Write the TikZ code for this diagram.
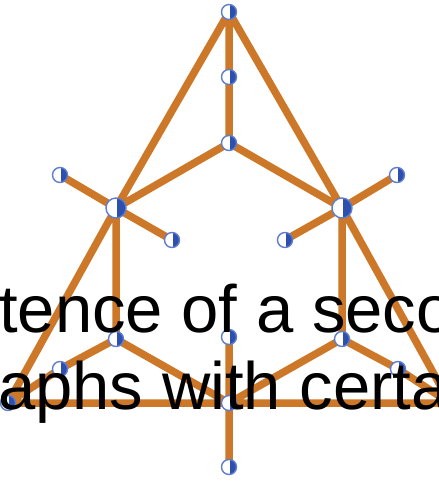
\documentclass[tikz,border=0pt]{standalone}
\usepackage{fontspec}
\setmainfont{Liberation Sans}
\definecolor{edgeor}{RGB}{204,120,40}
\definecolor{vblue}{RGB}{45,80,175}
\definecolor{vring}{RGB}{95,125,205}
\tikzset{
  edge/.style={draw=edgeor, line width=7.5pt},
  vtx/.style={circle, inner sep=0pt, minimum size=15pt, fill=white, draw=vring, line width=1.4pt,
    path picture={\fill[vblue] ([xshift=1.2pt]path picture bounding box.north) rectangle (path picture bounding box.south east);}},
  bigvtx/.style={vtx, minimum size=20pt},
  lbl/.style={anchor=base west, inner sep=0pt, font=\fontsize{67}{77}\selectfont, text=black}
}
\begin{document}
\begin{tikzpicture}[x=1pt,y=-1pt]
\useasboundingbox (0,0) rectangle (439,482);
\clip (0,0) rectangle (439,482);
\fill[white] (0,0) rectangle (439,482);
% vertex positions (named coordinates)
\coordinate (T) at (229,12);
\coordinate (T2) at (229,77);
\coordinate (C) at (229,143);
\coordinate (L) at (116,208);
\coordinate (R) at (342,208);
\coordinate (Lo) at (60,175);
\coordinate (Li) at (172,240);
\coordinate (Ro) at (397,175);
\coordinate (Ri) at (285,240);
\coordinate (LL1) at (116,339);
\coordinate (LL2) at (60,369);
\coordinate (BL) at (8,403);
\coordinate (BC) at (229,403);
\coordinate (CU) at (229,337);
\coordinate (S) at (229,467);
\coordinate (RL1) at (342,339);
\coordinate (RL2) at (398,369);
\coordinate (BR) at (450,403);
% edges
\path[edge] (T) -- (T2) (T2) -- (C) (T) -- (L) (L) -- (BL) (T) -- (R) (R) -- (BR)
  (C) -- (L) (C) -- (R) (L) -- (Lo) (L) -- (Li) (R) -- (Ro) (R) -- (Ri)
  (L) -- (LL1) (R) -- (RL1) (LL1) -- (LL2) (LL2) -- (BL) (LL1) -- (BC)
  (RL1) -- (BC) (RL1) -- (RL2) (RL2) -- (BR) (BL) -- (BC) (BC) -- (BR)
  (BC) -- (CU) (BC) -- (S);
% vertices
\foreach \n in {T,T2,C,Lo,Li,Ro,Ri,LL1,LL2,BL,BC,CU,S,RL1,RL2}
  \node[vtx] (v\n) at (\n) {};
\node[bigvtx] (vL) at (L) {};
\node[bigvtx] (vR) at (R) {};
% text
\node[lbl] (t1) at (-1,332.5) {tence of a seco};
\node[lbl] (t2) at (-2,409) {aphs with certa};
\end{tikzpicture}
\end{document}
